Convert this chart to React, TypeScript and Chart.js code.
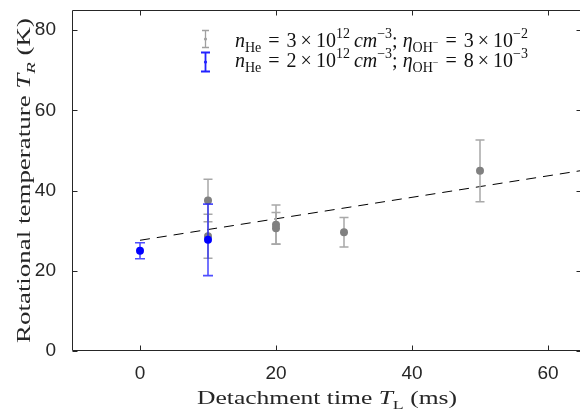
import React, { useEffect, useRef } from "react";
import { Chart, registerables } from "chart.js";
Chart.register(...registerables);

const xTicks = [0, 20, 40, 60];
const yTicks = [0, 20, 40, 60, 80];
const xRange = [-10, 65];
const yRange = [0, 85];

// n_He = 3e12 series (gray)
const grayX = [10, 10, 20, 20, 30, 50];
const grayY = [37.5, 28.6, 31.5, 30.6, 29.6, 44.9];
const grayErr = [5.3, 5.5, 4.9, 3.9, 3.7, 7.7];

// n_He = 2e12 series (blue)
const blueX = [0, 10];
const blueY = [25.0, 27.7];
const blueErr = [2.0, 8.9];

// linear fit (dashed)
const fitX = [0, 65];
const fitY = [27.6, 45.0];

const AXIS = "#262626";
const SERIF = "'Liberation Serif', 'Times New Roman', serif";
const SANS = "'Liberation Sans', Arial, Helvetica, sans-serif";

type Run = { t?: string; it?: boolean; pos?: "sub" | "sup" | "subsup"; gap?: number };

function runFont(r: Run, size: number) {
  let s = size;
  if (r.pos === "sub" || r.pos === "sup") s = size * 0.7;
  if (r.pos === "subsup") s = size * 0.5;
  return `${r.it ? "italic " : ""}${s}px ${SERIF}`;
}
function runOffset(r: Run, size: number) {
  if (r.pos === "sub") return size * 0.25;
  if (r.pos === "sup") return -size * 0.42;
  if (r.pos === "subsup") return -size * 0.02;
  return 0;
}
function measureRuns(ctx: CanvasRenderingContext2D, runs: Run[], size: number) {
  let w = 0;
  for (const r of runs) {
    if (r.gap !== undefined) { w += r.gap; continue; }
    ctx.font = runFont(r, size);
    w += ctx.measureText(r.t || "").width;
  }
  return w;
}
function drawRuns(ctx: CanvasRenderingContext2D, runs: Run[], x: number, y: number, size: number, color: string, stretch = 1) {
  ctx.save();
  ctx.translate(x, y);
  ctx.scale(stretch, 1);
  ctx.fillStyle = color;
  ctx.textBaseline = "alphabetic";
  ctx.textAlign = "left";
  let cx = 0;
  for (const r of runs) {
    if (r.gap !== undefined) { cx += r.gap; continue; }
    ctx.font = runFont(r, size);
    ctx.fillText(r.t || "", cx, runOffset(r, size));
    cx += ctx.measureText(r.t || "").width;
  }
  ctx.restore();
}
function drawRunsCentered(ctx: CanvasRenderingContext2D, runs: Run[], cx: number, y: number, size: number, color: string, target: number) {
  const w = measureRuns(ctx, runs, size);
  const k = target / w;
  drawRuns(ctx, runs, cx - target / 2, y, size, color, k);
}

const legend1: Run[] = [
  { t: "n", it: true }, { t: "He", pos: "sub" }, { gap: 7 }, { t: "=" }, { gap: 7 },
  { t: "3" }, { gap: 4 }, { t: "×" }, { gap: 4 }, { t: "10" }, { t: "12", pos: "sup" }, { gap: 4 },
  { t: "cm", it: true }, { t: "−3", pos: "sup" }, { t: ";" }, { gap: 5 },
  { t: "η", it: true }, { t: "OH", pos: "sub" }, { t: "−", pos: "subsup" }, { gap: 7 }, { t: "=" }, { gap: 7 },
  { t: "3" }, { gap: 4 }, { t: "×" }, { gap: 4 }, { t: "10" }, { t: "−2", pos: "sup" },
];
const legend2: Run[] = [
  { t: "n", it: true }, { t: "He", pos: "sub" }, { gap: 7 }, { t: "=" }, { gap: 7 },
  { t: "2" }, { gap: 4 }, { t: "×" }, { gap: 4 }, { t: "10" }, { t: "12", pos: "sup" }, { gap: 4 },
  { t: "cm", it: true }, { t: "−3", pos: "sup" }, { t: ";" }, { gap: 5 },
  { t: "η", it: true }, { t: "OH", pos: "sub" }, { t: "−", pos: "subsup" }, { gap: 7 }, { t: "=" }, { gap: 7 },
  { t: "8" }, { gap: 4 }, { t: "×" }, { gap: 4 }, { t: "10" }, { t: "−3", pos: "sup" },
];
const xTitle: Run[] = [{ t: "Detachment time " }, { t: "T", it: true }, { t: "L", pos: "sub" }, { t: " (ms)" }];
const yTitle: Run[] = [{ t: "Rotational temperature " }, { t: "T", it: true }, { t: "R", it: true, pos: "sub" }, { t: " (K)" }];

const errStore: Record<number, { x: number[]; y: number[]; e: number[]; color: string; cap: number; width: number }> = {
  0: { x: blueX, y: blueY, e: blueErr, color: "rgba(20,20,255,0.75)", cap: 5, width: 1.6 },
  1: { x: grayX, y: grayY, e: grayErr, color: "#a8a8a8", cap: 4.5, width: 1.5 },
};

const errorBarPlugin = {
  id: "errorBars",
  beforeDatasetDraw(chart: any, args: any) {
    const spec = errStore[args.index];
    if (!spec) return;
    const { ctx } = chart;
    const xs = chart.scales.x, ys = chart.scales.y;
    ctx.save();
    ctx.strokeStyle = spec.color;
    ctx.lineWidth = spec.width;
    for (let i = 0; i < spec.x.length; i++) {
      const px = xs.getPixelForValue(spec.x[i]);
      const top = ys.getPixelForValue(spec.y[i] + spec.e[i]);
      const bot = ys.getPixelForValue(spec.y[i] - spec.e[i]);
      ctx.beginPath();
      ctx.moveTo(px, top); ctx.lineTo(px, bot);
      ctx.moveTo(px - spec.cap, top); ctx.lineTo(px + spec.cap, top);
      ctx.moveTo(px - spec.cap, bot); ctx.lineTo(px + spec.cap, bot);
      ctx.stroke();
    }
    ctx.restore();
  },
};

const framePlugin = {
  id: "frame",
  afterDraw(chart: any) {
    const { ctx, chartArea: a } = chart;
    const xs = chart.scales.x, ys = chart.scales.y;
    ctx.save();
    ctx.strokeStyle = AXIS;
    ctx.lineWidth = 1;
    const L = Math.round(a.left) + 0.5, R = Math.round(a.right) - 0.5;
    const T = Math.round(a.top) + 0.5, B = Math.round(a.bottom) - 0.5;
    ctx.beginPath();
    ctx.rect(L, T, R - L, B - T);
    const tl = 5;
    for (const v of xTicks) {
      const p = Math.round(xs.getPixelForValue(v)) + 0.5;
      ctx.moveTo(p, B); ctx.lineTo(p, B - tl);
      ctx.moveTo(p, T); ctx.lineTo(p, T + tl);
    }
    for (const v of yTicks) {
      const p = Math.round(ys.getPixelForValue(v)) + 0.5;
      ctx.moveTo(L, p); ctx.lineTo(L + tl, p);
      ctx.moveTo(R, p); ctx.lineTo(R - tl, p);
    }
    ctx.stroke();

    // axis titles
    const size = 19;
    drawRunsCentered(ctx, xTitle, 327, 404, size, AXIS, 260);
    ctx.save();
    ctx.translate(30, (a.top + a.bottom) / 2);
    ctx.rotate(-Math.PI / 2);
    drawRunsCentered(ctx, yTitle, 0, 0, size, AXIS, 325);
    ctx.restore();

    // legend
    const lsize = 20;
    const icon = (cx: number, cy: number, half: number, color: string, lw: number, cap: number) => {
      ctx.save();
      ctx.strokeStyle = color;
      ctx.fillStyle = color;
      ctx.lineWidth = lw;
      ctx.beginPath();
      ctx.moveTo(cx, cy - half); ctx.lineTo(cx, cy + half);
      ctx.moveTo(cx - cap, cy - half); ctx.lineTo(cx + cap, cy - half);
      ctx.moveTo(cx - cap, cy + half); ctx.lineTo(cx + cap, cy + half);
      ctx.stroke();
      ctx.beginPath();
      ctx.arc(cx, cy, 1.6, 0, Math.PI * 2);
      ctx.fill();
      ctx.restore();
    };
    icon(205.5, 39, 8.5, "#a0a0a0", 1.3, 3.5);
    icon(205.5, 62, 9.5, "#2222ff", 1.8, 4.5);
    drawRuns(ctx, legend1, 235, 46.5, lsize, "#111111");
    drawRuns(ctx, legend2, 235, 66.5, lsize, "#111111");
    ctx.restore();
  },
};

const toPts = (xs: number[], ys: number[]) => xs.map((x, i) => ({ x, y: ys[i] }));

export default function App() {
  const ref = useRef<HTMLCanvasElement | null>(null);
  useEffect(() => {
    if (!ref.current) return;
    const chart = new Chart(ref.current, {
      type: "scatter",
      data: {
        datasets: [
          {
            label: "nHe = 2e12",
            data: toPts(blueX, blueY),
            backgroundColor: "#0000ff",
            borderWidth: 0,
            pointRadius: 4,
          },
          {
            label: "nHe = 3e12",
            data: toPts(grayX, grayY),
            backgroundColor: "#808080",
            borderWidth: 0,
            pointRadius: 4,
          },
          {
            type: "line" as any,
            label: "fit",
            data: toPts(fitX, fitY),
            borderColor: "#000000",
            borderWidth: 1,
            borderDash: [10, 7],
            pointRadius: 0,
            showLine: true,
            fill: false,
          } as any,
        ],
      },
      options: {
        responsive: false,
        animation: false,
        layout: { autoPadding: false, padding: { top: 10, right: 0, left: 0, bottom: 0 } },
        plugins: { legend: { display: false }, tooltip: { enabled: false } },
        scales: {
          x: {
            type: "linear",
            min: xRange[0],
            max: xRange[1],
            grid: { display: false },
            border: { display: false },
            afterBuildTicks: (s: any) => { s.ticks = xTicks.map((v) => ({ value: v })); },
            afterFit: (s: any) => { s.height = 63; s.paddingLeft = 0; s.paddingRight = 0; },
            ticks: { color: AXIS, font: { family: SANS, size: 19 }, padding: 3, maxRotation: 0 },
          },
          y: {
            type: "linear",
            min: yRange[0],
            max: yRange[1],
            grid: { display: false },
            border: { display: false },
            afterBuildTicks: (s: any) => { s.ticks = yTicks.map((v) => ({ value: v })); },
            afterFit: (s: any) => { s.width = 72; s.paddingTop = 0; s.paddingBottom = 0; },
            ticks: { color: AXIS, font: { family: SANS, size: 19 }, padding: 8 },
          },
        },
      },
      plugins: [errorBarPlugin, framePlugin],
    });
    return () => chart.destroy();
  }, []);
  return (
    <div style={{ position: "fixed", left: 0, top: 0, width: 580, height: 414, overflow: "hidden", background: "#fff" }}>
      <canvas ref={ref} width={582} height={414} style={{ display: "block" }} />
    </div>
  );
}
